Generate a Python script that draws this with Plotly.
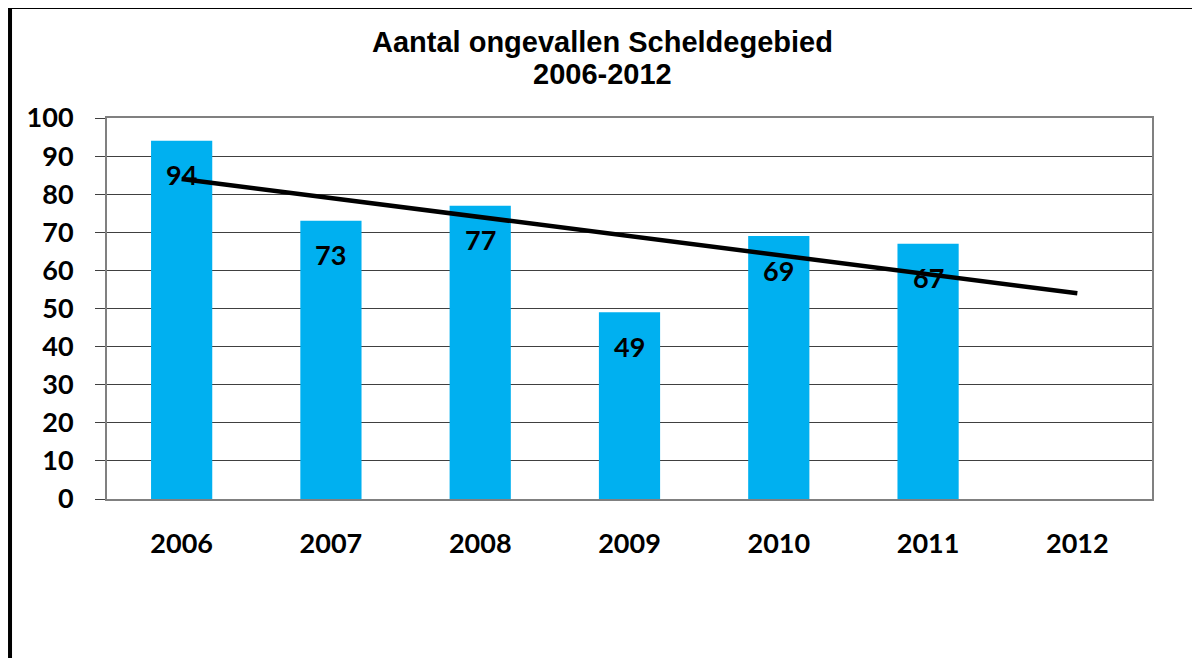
import plotly.graph_objects as go
import numpy as np

years = ["2006", "2007", "2008", "2009", "2010", "2011", "2012"]
bar_years = ["2006", "2007", "2008", "2009", "2010", "2011"]
accidents = [94, 73, 77, 49, 69, 67]
y_ticks = [0, 10, 20, 30, 40, 50, 60, 70, 80, 90, 100]
title_lines = ["Aantal ongevallen Scheldegebied", "2006-2012"]

# linear trend over the 6 known years, extended to 2012
xi = np.arange(1, len(accidents) + 1)
slope, intercept = np.polyfit(xi, accidents, 1)
trend_x = np.arange(1, len(years) + 1)
trend_y = slope * trend_x + intercept

fig = go.Figure()
fig.add_trace(go.Bar(x=bar_years, y=accidents, marker=dict(color="#00B0F0", line=dict(width=0)),
                     hoverinfo="skip", showlegend=False))
fig.add_trace(go.Scatter(x=years, y=list(trend_y), mode="lines", line=dict(color="black", width=4.5),
                         showlegend=False, hoverinfo="skip"))

FONT = "Lato, Carlito, Calibri, sans-serif"
label_font = dict(family=FONT, size=27, color="black", weight="bold")
for i, v in enumerate(accidents):
    fig.add_annotation(x=i, y=v, xref="x", yref="y", text="<b>%d</b>" % v, showarrow=False,
                       yshift=-34, font=dict(family=FONT, size=27, color="black"))

TFONT = dict(family="Liberation Sans, Arial, sans-serif", size=29, color="black")
for line, ty in zip(title_lines, [1.1995, 1.1155]):
    fig.add_annotation(x=0.4746, y=ty, xref="paper", yref="paper", text="<b>%s</b>" % line,
                       showarrow=False, xanchor="center", yanchor="middle", font=TFONT)

# outer border (chart frame)
fig.add_shape(type="rect", xref="paper", yref="paper", x0=-0.0928, x1=1.2, y0=-1.0, y1=1.2913,
              line=dict(color="black", width=4), fillcolor="rgba(0,0,0,0)", layer="below")

fig.update_layout(
    width=1200, height=658,
    margin=dict(l=99, r=56, t=110, b=167),
    paper_bgcolor="white", plot_bgcolor="white",
    bargap=0.59,
    xaxis=dict(type="category", categoryorder="array", categoryarray=years, range=[-0.5, 6.5],
               showgrid=False, showline=True, linecolor="#808080", linewidth=2, mirror=True,
               ticks="", tickfont=label_font, ticklabelstandoff=20),
    yaxis=dict(range=[0, 100], tickvals=y_ticks, showgrid=True, gridcolor="#404040", gridwidth=1,
               showline=True, linecolor="#808080", linewidth=2, mirror=True,
               ticks="outside", ticklen=10, tickcolor="#404040", tickwidth=1,
               tickfont=label_font, ticklabelstandoff=16, zeroline=False),
)
fig.write_html("out.html")
